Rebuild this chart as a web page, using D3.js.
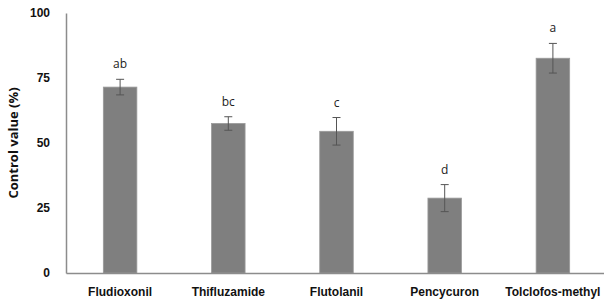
<!DOCTYPE html>
<html lang="en">
<head>
<meta charset="utf-8">
<title>Control value</title>
<script src="https://cdnjs.cloudflare.com/ajax/libs/d3/7.8.5/d3.min.js"></script>
<style>
  body { margin: 0; background: #fff; }
  svg { display: block; font-family: "Open Sans", sans-serif; }
  .tick-label { font-size: 12px; font-weight: bold; fill: #111; }
  .axis-title { font-size: 13px; font-weight: bold; fill: #111; }
  .letter { font-size: 12px; fill: #222; }
</style>
</head>
<body>
<div id="chart"></div>
<script>
var fungicides = ["Fludioxonil", "Thifluzamide", "Flutolanil", "Pencycuron", "Tolclofos-methyl"];
var controlValue = [71.5, 57.5, 54.5, 28.8, 82.6];
var errorValue = [3.0, 2.6, 5.3, 5.2, 5.7];
var groupLetters = ["ab", "bc", "c", "d", "a"];
var yTicks = [0, 25, 50, 75, 100];

var W = 604, H = 303;
var margin = {top: 13, left: 66, bottom: 30};
var height = H - margin.top - margin.bottom;

var svg = d3.select("#chart").append("svg")
  .attr("width", W).attr("height", H);

var g = svg.append("g")
  .attr("transform", "translate(" + margin.left + "," + margin.top + ")");

// plot runs past the right edge, like the cropped original
var x = d3.scaleBand().domain(fungicides).range([0, 541]).paddingInner(0.69).paddingOuter(0.345);
var y = d3.scaleLinear().domain([0, 100]).range([height, 0]);

// bars
g.selectAll("rect.bar")
  .data(fungicides)
  .enter().append("rect")
  .attr("class", "bar")
  .attr("x", function(d) { return x(d); })
  .attr("y", function(d, i) { return y(controlValue[i]); })
  .attr("width", x.bandwidth())
  .attr("height", function(d, i) { return height - y(controlValue[i]); })
  .attr("fill", "#7f7f7f")
  .attr("stroke", "#9a9a9a")
  .attr("stroke-width", 0.8);

// error bars
var err = g.selectAll("g.err")
  .data(fungicides)
  .enter().append("g")
  .attr("class", "err")
  .attr("transform", function(d) { return "translate(" + (x(d) + x.bandwidth() / 2) + ",0)"; });

err.append("line")
  .attr("y1", function(d, i) { return y(controlValue[i] + errorValue[i]); })
  .attr("y2", function(d, i) { return y(controlValue[i] - errorValue[i]); })
  .attr("stroke", "#555").attr("stroke-width", 1);

err.append("line")
  .attr("x1", -4).attr("x2", 4)
  .attr("y1", function(d, i) { return y(controlValue[i] + errorValue[i]); })
  .attr("y2", function(d, i) { return y(controlValue[i] + errorValue[i]); })
  .attr("stroke", "#555").attr("stroke-width", 1);

err.append("line")
  .attr("x1", -4).attr("x2", 4)
  .attr("y1", function(d, i) { return y(controlValue[i] - errorValue[i]); })
  .attr("y2", function(d, i) { return y(controlValue[i] - errorValue[i]); })
  .attr("stroke", "#555").attr("stroke-width", 1);

// significance letters
err.append("text")
  .attr("class", "letter")
  .attr("text-anchor", "middle")
  .attr("y", function(d, i) { return y(controlValue[i] + errorValue[i]) - 11; })
  .text(function(d, i) { return groupLetters[i]; });

// axes
var yAxis = g.append("g")
  .call(d3.axisLeft(y).tickValues(yTicks).tickSize(0).tickPadding(16));
yAxis.select(".domain").attr("stroke", "#8c8c8c").attr("stroke-width", 1.5);
yAxis.selectAll("text").attr("class", "tick-label");

var xAxis = g.append("g")
  .attr("transform", "translate(0," + height + ")")
  .call(d3.axisBottom(x).tickSize(0).tickPadding(14));
xAxis.select(".domain").attr("stroke", "#8c8c8c").attr("stroke-width", 1.5);
xAxis.selectAll("text").attr("class", "tick-label");

svg.append("text")
  .attr("class", "axis-title")
  .attr("transform", "translate(18," + (margin.top + height / 2) + ") rotate(-90)")
  .attr("text-anchor", "middle")
  .text("Control value (%)");
</script>
</body>
</html>
